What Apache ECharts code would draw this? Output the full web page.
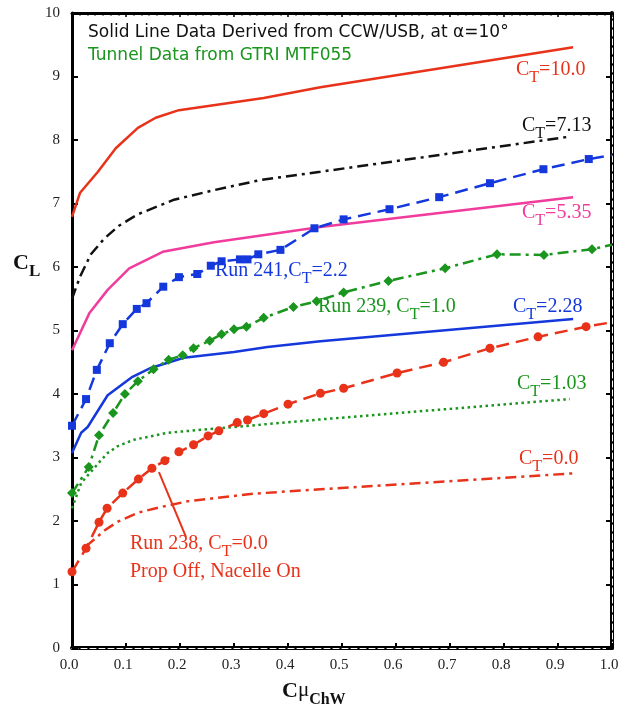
<!DOCTYPE html>
<html>
<head>
<meta charset="utf-8">
<script src="https://cdn.jsdelivr.net/npm/echarts@6/dist/echarts.min.js"></script>
<style>
  html, body { margin: 0; padding: 0; background: #fff; }
  #chart { width: 636px; height: 709px; }
</style>
</head>
<body>
<div id="chart"></div>
<script>
// ---- CCW/USB derived curves (x = Cmu_ChW, y = C_L) ----
const ct100 = [[0,6.79],[0.015,7.17],[0.048,7.5],[0.081,7.87],[0.122,8.19],[0.155,8.35],[0.198,8.47],[0.355,8.66],[0.46,8.83],[0.928,9.46]];
const ct713 = [[0,5.5],[0.015,5.85],[0.035,6.2],[0.06,6.45],[0.087,6.65],[0.122,6.83],[0.189,7.06],[0.263,7.21],[0.349,7.37],[0.46,7.5],[0.919,8.05]];
const ct535 = [[0,4.69],[0.032,5.27],[0.066,5.64],[0.106,5.98],[0.168,6.24],[0.263,6.39],[0.46,6.63],[0.928,7.1]];
const ct228 = [[0,3.07],[0.017,3.39],[0.029,3.48],[0.066,3.98],[0.112,4.27],[0.146,4.41],[0.207,4.57],[0.3,4.66],[0.362,4.74],[0.46,4.83],[0.928,5.18]];
const ct103 = [[0,2.2],[0.017,2.6],[0.054,2.96],[0.066,3.07],[0.085,3.18],[0.115,3.28],[0.177,3.39],[0.3,3.48],[0.46,3.6],[0.922,3.92]];
const ct000 = [[0.026,1.6],[0.06,1.85],[0.085,1.99],[0.122,2.13],[0.159,2.21],[0.214,2.31],[0.336,2.43],[0.46,2.5],[0.928,2.75]];

// ---- GTRI MTF055 tunnel runs ----
const run241X = [0,0.026,0.046,0.07,0.094,0.12,0.138,0.169,0.198,0.232,0.257,0.277,0.311,0.325,0.345,0.386,0.449,0.503,0.588,0.68,0.774,0.873,0.957];
const run241Y = [3.5,3.92,4.38,4.8,5.1,5.34,5.43,5.69,5.84,5.89,6.02,6.09,6.12,6.12,6.2,6.27,6.61,6.75,6.91,7.1,7.32,7.54,7.7];
const run241Edge = [1.0, 7.76];

const run239X = [0,0.031,0.05,0.076,0.098,0.122,0.151,0.179,0.205,0.225,0.255,0.277,0.3,0.323,0.355,0.41,0.453,0.503,0.586,0.691,0.787,0.874,0.963];
const run239Y = [2.44,2.85,3.35,3.7,4.0,4.2,4.39,4.54,4.61,4.72,4.84,4.94,5.02,5.06,5.2,5.37,5.46,5.6,5.78,5.98,6.2,6.19,6.28];
const run239Edge = [1.0, 6.35];

const run238X = [0,0.026,0.05,0.065,0.094,0.123,0.148,0.172,0.198,0.225,0.252,0.272,0.306,0.325,0.355,0.4,0.46,0.503,0.602,0.688,0.774,0.863,0.952];
const run238Y = [1.2,1.57,1.98,2.2,2.44,2.66,2.83,2.95,3.09,3.2,3.34,3.42,3.55,3.59,3.69,3.84,4.01,4.09,4.33,4.5,4.72,4.9,5.06];
const run238Edge = [1.0, 5.13];

// leader line from the Run 238 note to its curve
const run238Leader = [[0.161,2.77],[0.211,1.75]];

// axis ticks
const xTicks = { min: 0, max: 1, step: 0.1 };
const yTicks = { min: 0, max: 10, step: 1 };

// curve annotations
const ctLabels = ['10.0','7.13','5.35','2.28','1.03','0.0'];
const headerLines = ['Solid Line Data Derived from CCW/USB, at \u03b1=10\u00b0', 'Tunnel Data from GTRI MTF055'];

const RED = '#e8321a', BLACK = '#111', MAGENTA = '#f03c9c', BLUE = '#1438dc', GREEN = '#1a951e';
const SERIF = '"Liberation Serif","Times New Roman",serif';
const SANS = '"DejaVu Sans","Open Sans",sans-serif';

function zip(xs, ys, edge) {
  const d = xs.map((x, i) => [x, ys[i]]);
  if (edge) d.push({ value: edge, symbol: 'none' });
  return d;
}

function curve(data, color, type) {
  return {
    type: 'line', data: data, symbol: 'none', smooth: false, clip: true,
    lineStyle: { color: color, width: 2.5, type: type },
    z: 3
  };
}

function run(data, color, type, symbol, size) {
  return {
    type: 'line', data: data, symbol: symbol, symbolSize: size, clip: true,
    lineStyle: { color: color, width: 2.5, type: type },
    itemStyle: { color: color },
    z: 4
  };
}

function ctRich(color, size) {
  return {
    c: { fontFamily: SERIF, fontSize: size, lineHeight: size, verticalAlign: 'top', fill: color, color: color },
    s: { fontFamily: SERIF, fontSize: Math.round(size * 0.78), lineHeight: size + 6, verticalAlign: 'bottom', fill: color, color: color }
  };
}

function ctText(prefix, value, color, x, y) {
  return {
    type: 'text', left: x, top: y, z: 10,
    style: {
      text: '{c|' + prefix + 'C}{s|T}{c|=' + value + '}',
      rich: ctRich(color, 20),
      fill: color
    }
  };
}

const chart = echarts.init(document.getElementById('chart'), null, { renderer: 'canvas' });

const option = {
  animation: false,
  backgroundColor: '#fff',
  grid: { left: 72, right: 24, top: 13, bottom: 61, containLabel: false },
  xAxis: [
    {
      type: 'value', position: 'bottom', min: xTicks.min, max: xTicks.max, interval: xTicks.step,
      axisLine: { show: true, lineStyle: { color: '#000', width: 4 } },
      axisTick: { show: true, inside: true, length: 5, lineStyle: { color: '#000', width: 2 } },
      axisLabel: { show: true, margin: 10, fontFamily: SERIF, fontSize: 15, color: '#222',
        padding: [0, 6, 0, 0], formatter: v => v.toFixed(1) },
      splitLine: { show: false }
    },
    {
      type: 'value', position: 'top', min: xTicks.min, max: xTicks.max, interval: xTicks.step,
      axisLine: { show: true, onZero: false, lineStyle: { color: '#000', width: 3 } },
      axisTick: { show: true, inside: true, length: 4, lineStyle: { color: '#000', width: 1.5 } },
      minorTick: { show: true, splitNumber: 7, length: 2.5, lineStyle: { color: '#000', width: 1.5 } },
      axisLabel: { show: false }, splitLine: { show: false }
    },
    {
      // thin white dashed inlay along the doubled bottom frame
      type: 'value', position: 'bottom', min: xTicks.min, max: xTicks.max, interval: xTicks.step,
      axisLine: { show: true, onZero: false, lineStyle: { color: '#fff', width: 1, type: [6, 3] } },
      axisTick: { show: false }, axisLabel: { show: false }, splitLine: { show: false }
    }
  ],
  yAxis: [
    {
      type: 'value', position: 'left', min: yTicks.min, max: yTicks.max, interval: yTicks.step,
      axisLine: { show: true, onZero: false, lineStyle: { color: '#000', width: 3 } },
      axisTick: { show: true, inside: true, length: 6, lineStyle: { color: '#000', width: 2 } },
      axisLabel: { show: true, margin: 12, fontFamily: SERIF, fontSize: 15, color: '#222' },
      splitLine: { show: false }
    },
    {
      type: 'value', position: 'right', min: yTicks.min, max: yTicks.max, interval: yTicks.step,
      axisLine: { show: true, onZero: false, lineStyle: { color: '#000', width: 4 } },
      axisTick: { show: true, inside: true, length: 6, lineStyle: { color: '#000', width: 2 } },
      axisLabel: { show: false }, splitLine: { show: false }
    },
    {
      type: 'value', position: 'right', min: yTicks.min, max: yTicks.max, interval: yTicks.step,
      axisLine: { show: true, onZero: false, lineStyle: { color: '#fff', width: 1, type: [6, 3] } },
      axisTick: { show: false }, axisLabel: { show: false }, splitLine: { show: false }
    }
  ],
  series: [
    curve(ct100, RED, 'solid'),
    curve(ct713, BLACK, [11, 5, 3, 5]),
    curve(ct535, MAGENTA, 'solid'),
    curve(ct228, BLUE, 'solid'),
    curve(ct103, GREEN, [2.5, 3.5]),
    curve(ct000, RED, [11, 5, 3, 5]),
    run(zip(run241X, run241Y, run241Edge), BLUE, [13, 7], 'rect', 8),
    run(zip(run239X, run239Y, run239Edge), GREEN, [11, 5, 3, 5], 'diamond', 10),
    run(zip(run238X, run238Y, run238Edge), RED, [13, 7], 'circle', 9),
    { type: 'line', data: run238Leader, symbol: 'none', lineStyle: { color: RED, width: 2 }, z: 5 }
  ],
  graphic: [
    { type: 'text', left: 88, top: 24, z: 10,
      style: { text: headerLines[0], fontFamily: SANS, fontSize: 17, fill: '#111' } },
    { type: 'text', left: 88, top: 47, z: 10,
      style: { text: headerLines[1], fontFamily: SANS, fontSize: 17, fill: GREEN } },
    ctText('', ctLabels[0], RED, 516, 60),
    ctText('', ctLabels[1], BLACK, 522, 116),
    ctText('', ctLabels[2], MAGENTA, 522, 203),
    ctText('', ctLabels[3], BLUE, 513, 297),
    ctText('', ctLabels[4], GREEN, 517, 374),
    ctText('', ctLabels[5], RED, 519, 449),
    ctText('Run 241,', '2.2', BLUE, 215, 261),
    ctText('Run 239, ', '1.0', GREEN, 318, 297),
    ctText('Run 238, ', '0.0', RED, 130, 534),
    { type: 'text', left: 130, top: 562, z: 10,
      style: { text: 'Prop Off, Nacelle On', fontFamily: SERIF, fontSize: 20, fill: RED } },
    // axis titles
    { type: 'text', left: 13, top: 252, z: 10,
      style: {
        text: '{c|C}{s|L}',
        rich: {
          c: { fontFamily: SERIF, fontWeight: 'bold', fontSize: 22, lineHeight: 22, verticalAlign: 'top', fill: '#111' },
          s: { fontFamily: SERIF, fontWeight: 'bold', fontSize: 17, lineHeight: 28, verticalAlign: 'bottom', fill: '#111' }
        }
      } },
    { type: 'text', left: 282, top: 680, z: 10,
      style: {
        text: '{c|C}{m|\u03bc}{s|ChW}',
        rich: {
          c: { fontFamily: SERIF, fontWeight: 'bold', fontSize: 22, lineHeight: 22, verticalAlign: 'top', fill: '#111' },
          m: { fontFamily: SERIF, fontSize: 21, lineHeight: 22, verticalAlign: 'top', fill: '#111' },
          s: { fontFamily: SERIF, fontWeight: 'bold', fontSize: 16, lineHeight: 28, verticalAlign: 'bottom', fill: '#111' }
        }
      } }
  ]
};

chart.setOption(option);
</script>
</body>
</html>
